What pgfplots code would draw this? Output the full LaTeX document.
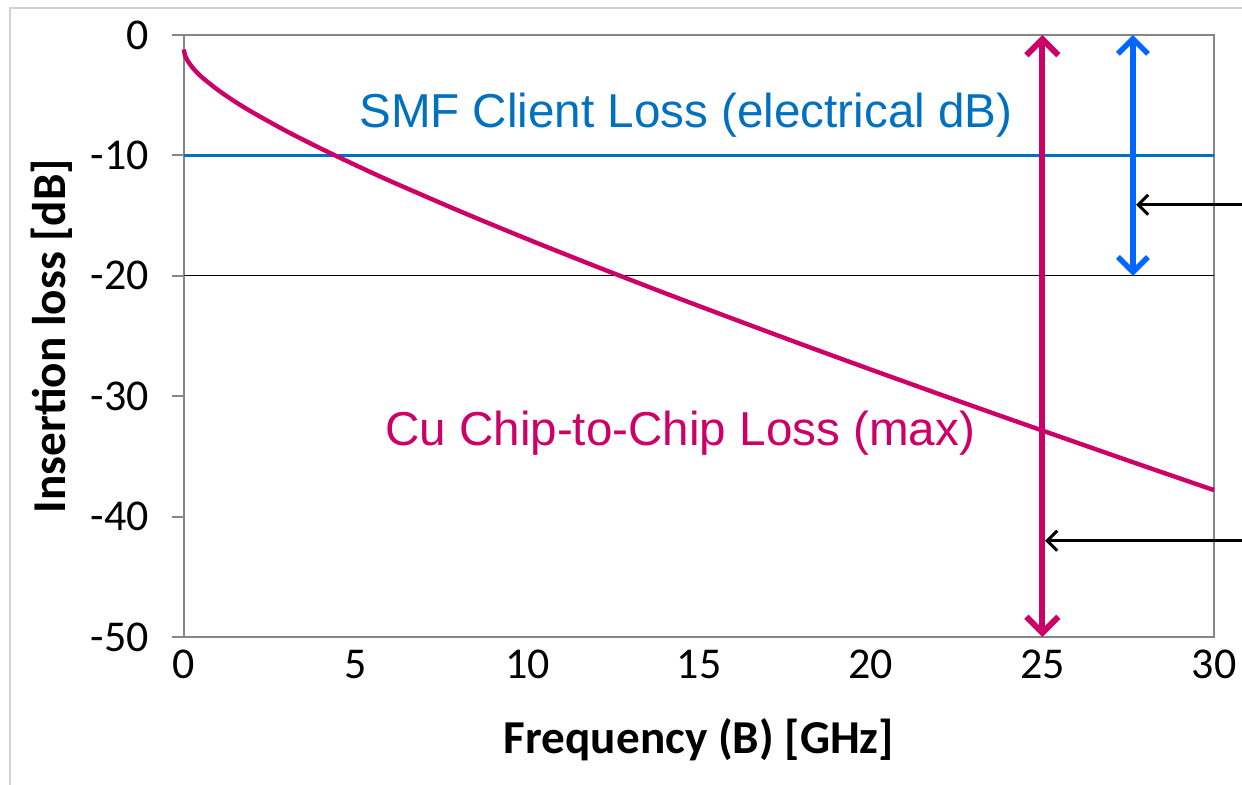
\documentclass[border=0pt]{standalone}
\usepackage{fontspec}
\setmainfont{Carlito}
\newfontfamily\arialfont{Liberation Sans}
\usepackage{pgfplots}
\pgfplotsset{compat=1.18}
\usetikzlibrary{arrows.meta}
\definecolor{cupink}{HTML}{CC0066}
\definecolor{smfblue}{HTML}{0070C0}
\definecolor{arrblue}{HTML}{0066FF}
\definecolor{axisgray}{HTML}{868686}
\begin{document}
\begin{tikzpicture}
\useasboundingbox (-92pt,-73.5pt) rectangle (529pt,318.5pt);
\draw[gray!35, line width=0.8pt] (-87pt,314.5pt) rectangle (560pt,-90pt);
\begin{axis}[at={(0,0)}, anchor=south west, scale only axis,
  width=515pt, height=301pt,
  xmin=0, xmax=30, ymin=-50, ymax=0,
  xtick={0,5,...,30}, ytick={-50,-40,...,0},
  axis line style={draw=axisgray, line width=1.2pt},
  tick align=outside, tick pos=left,
  major tick length=6pt,
  x tick style={draw=none},
  y tick style={axisgray, line width=1pt},
  /pgf/number format/assume math mode=true,
  ticklabel style={font=\fontsize{22}{26}\selectfont},
  yticklabel style={xshift=-8pt},
  xticklabel style={yshift=3pt},
  xlabel={Frequency (B) [GHz]}, ylabel={Insertion loss [dB]},
  label style={font=\bfseries\fontsize{23.6}{28}\selectfont},
  xlabel style={at={(rel axis cs:0.5,-0.1711)}, anchor=center},
  ylabel style={at={(rel axis cs:-0.1282,0.5)}, anchor=center},
  clip=false,
]
\addplot[black, line width=0.6pt] coordinates {(0,-20) (30,-20)};
\addplot[smfblue, line width=1.5pt] coordinates {(0,-10) (30,-10)};
\addplot[cupink, line width=2.2pt, smooth] coordinates {
(0,-1.20) (0.02,-1.59) (0.05,-1.83) (0.1,-2.11) (0.25,-2.71) (0.5,-3.45)
(1,-4.59) (1.5,-5.56) (2,-6.43) (3,-8.01) (4,-9.45) (5,-10.81) (6,-12.12)
(8,-14.59) (10,-16.95) (12,-19.22) (14,-21.43) (16,-23.58) (18,-25.70)
(20,-27.78) (22,-29.83) (24,-31.85) (26,-33.85) (28,-35.84) (30,-37.80)};
\draw[cupink, line width=3pt, line cap=round,
  {Straight Barb[length=8pt,width=16pt]}-{Straight Barb[length=8pt,width=16pt]}]
  (axis cs:25,0) -- (axis cs:25,-50);
\draw[arrblue, line width=2.7pt, line cap=round,
  {Straight Barb[length=7.5pt,width=15pt]}-{Straight Barb[length=7.5pt,width=15pt]}]
  (axis cs:27.64,0) -- (axis cs:27.64,-20);
\draw[black, line width=1.5pt, -{Straight Barb[length=5pt,width=10pt]}]
  (axis cs:31.2,-14.1) -- (axis cs:27.73,-14.1);
\draw[black, line width=1.5pt, -{Straight Barb[length=5pt,width=10pt]}]
  (axis cs:31.2,-42.0) -- (axis cs:25.08,-42.0);
\node[font=\arialfont\fontsize{23.8}{28}\selectfont, text=smfblue]
  at (axis cs:14.62,-6.64) {SMF Client Loss (electrical dB)};
\node[font=\arialfont\fontsize{23.8}{28}\selectfont, text=cupink]
  at (axis cs:14.45,-33.06) {Cu Chip-to-Chip Loss (max)};
\end{axis}
\end{tikzpicture}
\end{document}
